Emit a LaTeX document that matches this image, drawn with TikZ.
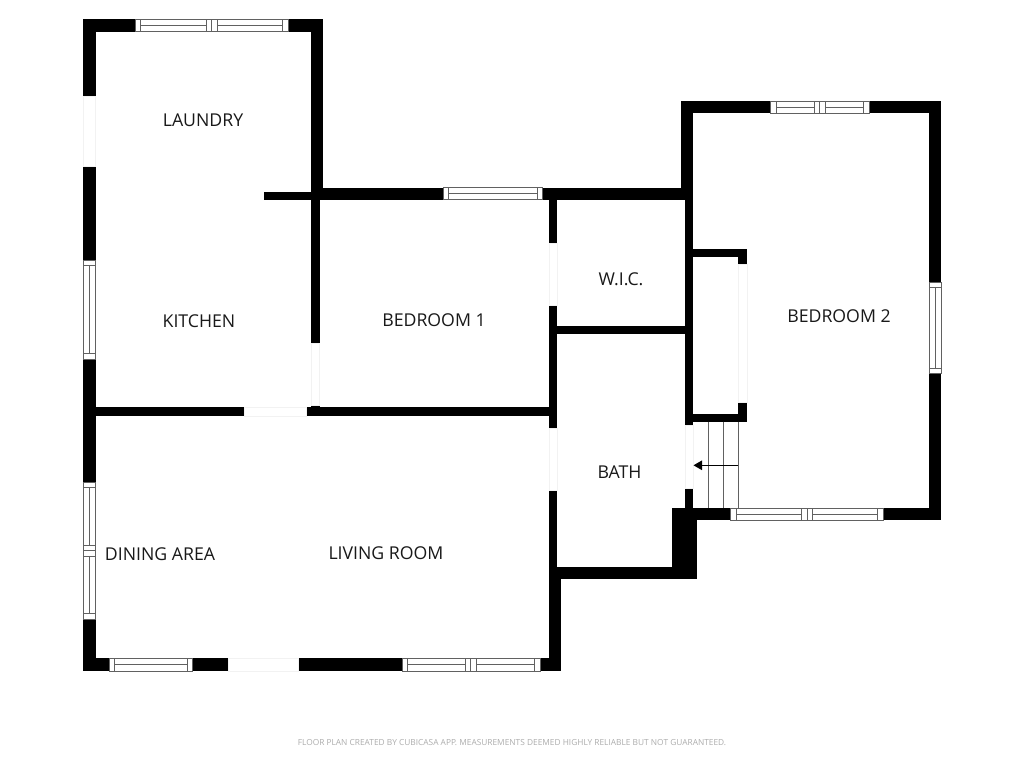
\documentclass[tikz,border=0pt]{standalone}
\usepackage{fontspec}
\setmainfont{Open Sans}
\usetikzlibrary{arrows.meta}
\definecolor{framegray}{gray}{0.38}
\definecolor{gapgray}{gray}{0.95}
\definecolor{notegray}{gray}{0.68}
\tikzset{
  wall/.style={fill=black,draw=none},
  glazing/.style={draw=framegray,line width=1pt},
  opening/.style={fill=white,draw=gapgray,line width=0.6pt},
  tread/.style={draw=framegray,line width=0.9pt},
  roomlabel/.style={font=\fontsize{17.7}{20}\selectfont,text=black!90,inner sep=0pt,anchor=center},
  note/.style={font=\fontsize{8.34}{10}\selectfont,text=notegray,inner sep=0pt,anchor=center}
}
% horizontal window: x1 x2 y1 y2
\newcommand{\hwin}[4]{%
  \fill[white] (#1,#3) rectangle (#2,#4);
  \draw[glazing] (#1,#3) rectangle (#2,#4);
  \draw[glazing] (#1+5.5,{(#3+#4)/2}) -- (#2-5.5,{(#3+#4)/2});
  \draw[glazing] (#1+5.5,#3) -- (#1+5.5,#4);
  \draw[glazing] (#2-5.5,#3) -- (#2-5.5,#4);
}
% centre mullion of a two-pane horizontal window: y1 y2 a b c
\newcommand{\hmull}[5]{%
  \fill[white] (#3,#1+0.5) rectangle (#5,#2-0.5);
  \draw[glazing] (#3,#1) -- (#3,#2);
  \draw[glazing] (#4,#1) -- (#4,#2);
  \draw[glazing] (#5,#1) -- (#5,#2);
}
\newcommand{\vwin}[4]{%
  \fill[white] (#1,#3) rectangle (#2,#4);
  \draw[glazing] (#1,#3) rectangle (#2,#4);
  \draw[glazing] ({(#1+#2)/2},#3+5.5) -- ({(#1+#2)/2},#4-5.5);
  \draw[glazing] (#1,#3+5.5) -- (#2,#3+5.5);
  \draw[glazing] (#1,#4-5.5) -- (#2,#4-5.5);
}
\newcommand{\vmull}[5]{%
  \fill[white] (#1+0.5,#3) rectangle (#2-0.5,#5);
  \draw[glazing] (#1,#3) -- (#2,#3);
  \draw[glazing] (#1,#4) -- (#2,#4);
  \draw[glazing] (#1,#5) -- (#2,#5);
}
\begin{document}
\begin{tikzpicture}[x=1pt,y=-1pt]
\useasboundingbox (0,0) rectangle (1024,768);
\fill[white] (0,0) rectangle (1024,768);
% outer walls, left wing
\fill[wall] (83.3,19.3) rectangle (323.3,31.7);
\fill[wall] (83.3,19.3) rectangle (95.7,671);
\fill[wall] (311,19.3) rectangle (323.3,200);
\fill[wall] (83.3,658.3) rectangle (561.3,671);
\fill[wall] (264.3,191.7) rectangle (323.3,200);
\fill[wall] (311,187.7) rectangle (693.3,199.5);
\fill[wall] (311,199) rectangle (319.5,416);
\fill[wall] (95,407.3) rectangle (553,416.3);
% centre
\fill[wall] (549.3,199) rectangle (557.3,579.3);
\fill[wall] (549.3,567.3) rectangle (561.3,671);
\fill[wall] (549.3,567.3) rectangle (697,579.3);
\fill[wall] (557,326) rectangle (686,334.3);
\fill[wall] (672.3,508.3) rectangle (697,579.3);
% bedroom 2
\fill[wall] (680.7,101.3) rectangle (941,113.3);
\fill[wall] (680.7,101.3) rectangle (693.3,199.5);
\fill[wall] (685,199) rectangle (693.3,520);
\fill[wall] (929,101.3) rectangle (941,520);
\fill[wall] (672.3,507.7) rectangle (941,520);
\fill[wall] (685,249.3) rectangle (747,257.3);
\fill[wall] (738.3,249.3) rectangle (747,421.7);
\fill[wall] (685,413.7) rectangle (747,421.7);
% plain openings
\filldraw[opening] (83.3,96.7) rectangle (95.7,166.7);
\filldraw[opening] (244.7,407.6) rectangle (306.7,416.3);
\filldraw[opening] (311,343.3) rectangle (319.5,405.5);
\filldraw[opening] (549.3,243) rectangle (557.3,305);
\filldraw[opening] (549.3,428.3) rectangle (557.3,490.7);
\filldraw[opening] (228.3,658.6) rectangle (298,671);
\filldraw[opening] (685,425) rectangle (693.3,488);
\filldraw[opening] (738.3,264) rectangle (747,402.3);
% windows
\hwin{135.3}{288}{19.6}{31.7}
\hmull{19.6}{31.7}{206}{211.3}{217.3}
\hwin{443.3}{542.7}{187.9}{199.3}
\hwin{770.7}{869.3}{101.6}{113.3}
\hmull{101.6}{113.3}{814}{819.4}{825}
\hwin{730.7}{883.3}{508}{520}
\hmull{508}{520}{801.3}{807}{812.7}
\hwin{109.3}{192.7}{658.6}{671}
\hwin{402.3}{540}{658.6}{671}
\hmull{658.6}{671}{465.3}{470.7}{476.7}
\vwin{83.6}{95.7}{260}{359}
\vwin{83.6}{95.7}{482}{619}
\vmull{83.6}{95.7}{545}{550.3}{556.3}
\vwin{929.3}{941}{282.3}{373.7}
% stairs
\coordinate (stairtop) at (738.3,465.3);
\coordinate (stairend) at (693.5,465.3);
\draw[tread] (708.3,421.7) -- (708.3,508);
\draw[tread] (723.3,421.7) -- (723.3,508);
\draw[tread] (738.3,421.7) -- (738.3,508);
\draw[tread,-{Triangle[length=8.5pt,width=9.5pt]},black] (stairtop) -- (stairend);
% labels
\node[roomlabel] (laundry) at (203,120) {LAUNDRY};
\node[roomlabel] (kitchen) at (199,321) {KITCHEN};
\node[roomlabel] (bedone) at (434,320) {BEDROOM 1};
\node[roomlabel] (wic) at (621,279) {W.I.C.};
\node[roomlabel] (bath) at (619.5,472.5) {BATH};
\node[roomlabel] (bedtwo) at (839,316) {BEDROOM 2};
\node[roomlabel] (dining) at (160,554) {DINING AREA};
\node[roomlabel] (living) at (386,553.5) {LIVING ROOM};
\node[note] (credit) at (512,742.5) {FLOOR PLAN CREATED BY CUBICASA APP. MEASUREMENTS DEEMED HIGHLY RELIABLE BUT NOT GUARANTEED.};
\end{tikzpicture}
\end{document}
